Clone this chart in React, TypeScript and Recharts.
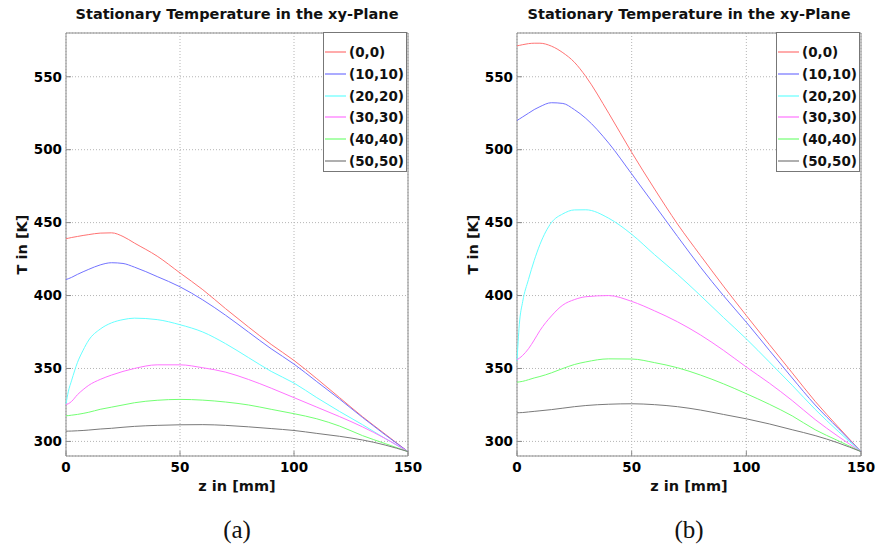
import React from "react";
import { LineChart, Line, XAxis, YAxis, CartesianGrid, ReferenceArea } from "recharts";

// z position along the axis, in mm
const zMm = [0, 1, 2.5, 5, 7.5, 10, 15, 20, 25, 30, 40, 50, 60, 70, 80, 90, 100, 110, 120, 130, 140, 150];

const seriesNames = ["(0,0)", "(10,10)", "(20,20)", "(30,30)", "(40,40)", "(50,50)"];
const seriesColors = ["#ff7373", "#7373ff", "#66ffff", "#ff73ff", "#73ff73", "#7a7a7a"];

// panel (a)
const a00 = [439, 439.3, 439.8, 440.5, 441.2, 441.8, 442.8, 443, 440.5, 436, 427, 415.5, 404, 391, 378.5, 366.5, 355.5, 343, 330, 317, 305, 293];
const a1010 = [411, 411.5, 412.5, 414.5, 416.3, 418, 421, 422.5, 422, 419.5, 413, 406, 397, 386.5, 375, 363.5, 353, 341, 329, 316.5, 304.5, 293];
const a2020 = [325.8, 334, 342, 354, 362.5, 369.5, 377, 381.3, 383.5, 384.5, 383.5, 380, 375, 367, 357.5, 348, 340, 330, 320.5, 311.5, 302, 293];
const a3030 = [325.3, 325.8, 327.5, 332, 335.5, 338.5, 342.5, 345.5, 348, 350, 352.5, 352.5, 350.5, 347.5, 342.5, 336.5, 330, 323.5, 317, 310, 302, 293];
const a4040 = [317.6, 317.7, 318, 318.5, 319.2, 320, 322, 323.5, 325, 326.5, 328.2, 328.8, 328.3, 327, 325, 322, 319, 315.5, 310.5, 304, 298.5, 293];
const a5050 = [307, 307.05, 307.1, 307.3, 307.5, 307.8, 308.5, 309, 309.7, 310.3, 311, 311.4, 311.5, 311, 310, 308.8, 307.5, 305.5, 303.5, 301, 297.5, 293];

// panel (b)
const b00 = [571.2, 571.5, 572, 572.7, 573, 573, 571, 566.5, 560, 550.2, 525, 498.2, 473, 449, 427.5, 406.5, 386.3, 366.5, 347, 327.5, 310, 293];
const b1010 = [520, 521, 522.5, 525, 527.5, 529.5, 532.2, 531.7, 527.5, 521.5, 504.5, 483.4, 462, 440.5, 419.5, 400, 381.7, 362.5, 343.5, 325, 309, 293];
const b2020 = [355, 380, 396, 411, 424, 435, 450, 456, 458.7, 458.8, 453, 442, 428, 414.5, 400, 385, 370.3, 354.5, 338.5, 322, 307, 293];
const b3030 = [356, 357, 359, 363.5, 369.5, 376, 386, 393.5, 397.2, 399.2, 400, 396, 389.5, 382, 373, 362.5, 351, 340, 328, 315, 303.5, 293];
const b4040 = [340.6, 340.8, 341.2, 342.3, 343.5, 344.5, 347, 350, 352.7, 354.5, 356.6, 356.5, 354, 350.5, 345.5, 339.5, 332.7, 325.5, 317.5, 308, 300.5, 293];
const b5050 = [319.6, 319.7, 319.8, 320.2, 320.6, 321, 321.8, 322.8, 323.8, 324.6, 325.5, 325.8, 325.2, 323.8, 321.5, 318.5, 315.5, 312, 308, 304, 299, 293];

const xTicks = [0, 50, 100, 150];
const yTicks = [300, 350, 400, 450, 500, 550];

const FONT = "'DejaVu Sans', Verdana, sans-serif";
const tickStyle = { fontSize: 13.5, fontWeight: "bold", fill: "#000", fontFamily: FONT };
const FRAME = "#8c8c8c";

const buildRows = (series) =>
  zMm.map((z, i) => {
    const row = { z };
    series.forEach((s, k) => (row["s" + k] = s[i]));
    return row;
  });

const Panel = ({ series, left, yAxisWidth, marginRight, letter }) => {
  const data = buildRows(series);
  const plotLeft = left + 20 + yAxisWidth;
  const plotRight = left + 438 - marginRight;
  const plotW = plotRight - plotLeft;

  return (
    <>
      <div
        style={{
          position: "absolute",
          left: plotLeft,
          top: 6,
          width: plotW,
          textAlign: "center",
          font: `bold 14.5px ${FONT}`,
          color: "#111",
        }}
      >
        Stationary Temperature in the xy-Plane
      </div>
      <LineChart
        width={438}
        height={548}
        data={data}
        margin={{ top: 33, right: marginRight, bottom: 52, left: 20 }}
        style={{ position: "absolute", left, top: 0 }}
      >
        <CartesianGrid stroke="#b5b5b5" strokeDasharray="1 2" />
        <XAxis
          dataKey="z"
          type="number"
          domain={[0, 150]}
          ticks={xTicks}
          height={40}
          axisLine={false}
          tickLine={{ stroke: FRAME }}
          tickSize={-5}
          tickMargin={11}
          tick={tickStyle}
          interval={0}
          label={{
            content: ({ viewBox }) => (
              <text
                x={viewBox.x + viewBox.width / 2}
                y={viewBox.y + 35}
                textAnchor="middle"
                style={{ fontSize: 14.5, fontWeight: "bold", fontFamily: FONT }}
                fill="#111"
              >
                z in [mm]
              </text>
            ),
          }}
        />
        <XAxis
          xAxisId="top"
          orientation="top"
          dataKey="z"
          type="number"
          domain={[0, 150]}
          ticks={xTicks}
          height={0}
          axisLine={false}
          tickLine={{ stroke: FRAME }}
          tickSize={-5}
          tick={false}
        />
        <YAxis
          type="number"
          domain={[290, 580]}
          ticks={yTicks}
          width={yAxisWidth}
          axisLine={false}
          tickLine={{ stroke: FRAME }}
          tickSize={-5}
          tickMargin={9}
          tick={tickStyle}
          interval={0}
          label={{
            content: ({ viewBox }) => {
              const cx = viewBox.x + viewBox.width - 44;
              const cy = viewBox.y + viewBox.height / 2;
              return (
                <text
                  x={cx}
                  y={cy}
                  textAnchor="middle"
                  dominantBaseline="central"
                  transform={`rotate(-90, ${cx}, ${cy})`}
                  style={{ fontSize: 14.5, fontWeight: "bold", fontFamily: FONT }}
                  fill="#111"
                >
                  T in [K]
                </text>
              );
            },
          }}
        />
        <YAxis
          yAxisId="right"
          orientation="right"
          type="number"
          domain={[290, 580]}
          ticks={yTicks}
          width={0}
          axisLine={false}
          tickLine={{ stroke: FRAME }}
          tickSize={-5}
          tick={false}
        />
        {series.map((_, k) => (
          <Line
            key={k}
            dataKey={"s" + k}
            name={seriesNames[k]}
            type="monotone"
            stroke={seriesColors[k]}
            strokeWidth={1}
            dot={false}
            isAnimationActive={false}
          />
        ))}
        <ReferenceArea x1={0} x2={150} y1={290} y2={580} fill="none" stroke={FRAME} strokeWidth={1} />
      </LineChart>
      <div
        style={{
          position: "absolute",
          left: plotRight - 85,
          top: 32,
          width: 82,
          height: 138,
          border: "1px solid #777",
          background: "#fff",
          font: `bold 13.5px ${FONT}`,
          color: "#111",
        }}
      >
        {seriesNames.map((n, k) => (
          <div key={n} style={{ position: "absolute", left: 1, top: 8 + k * 21.8, height: 22, display: "flex", alignItems: "center", whiteSpace: "nowrap" }}>
            <svg width={22} height={4} style={{ marginRight: 2 }}>
              <line x1={0} y1={2} x2={21} y2={2} stroke={seriesColors[k]} strokeWidth={1.2} />
            </svg>
            <span>{n}</span>
          </div>
        ))}
      </div>
      <div
        style={{
          position: "absolute",
          left: plotLeft,
          width: plotW,
          top: 516,
          textAlign: "center",
          fontFamily: "'Liberation Serif', 'Times New Roman', serif",
          fontSize: 25,
          color: "#111",
        }}
      >
        {letter}
      </div>
    </>
  );
};

export default function App() {
  return (
    <div style={{ position: "absolute", left: 0, top: 0, width: 876, height: 548, background: "#fff", overflow: "hidden" }}>
      <Panel series={[a00, a1010, a2020, a3030, a4040, a5050]} left={0} yAxisWidth={46} marginRight={30} letter="(a)" />
      <Panel series={[b00, b1010, b2020, b3030, b4040, b5050]} left={438} yAxisWidth={59} marginRight={15} letter="(b)" />
    </div>
  );
}
